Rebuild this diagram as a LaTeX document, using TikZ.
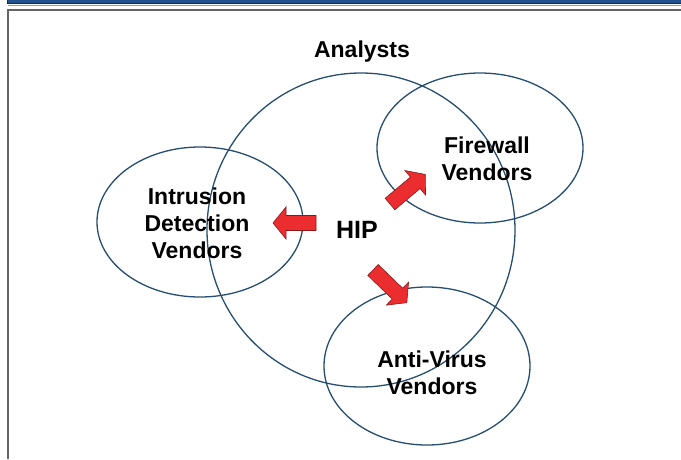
\documentclass[tikz,border=0pt]{standalone}
\usepackage{fontspec}
\setmainfont{Liberation Sans}
\usetikzlibrary{shapes.geometric}
\definecolor{ringblue}{RGB}{38,78,112}
\definecolor{bandblue}{RGB}{33,80,138}
\definecolor{banddark}{RGB}{30,40,60}
\definecolor{framegrey}{RGB}{100,100,100}
\definecolor{arrowred}{RGB}{235,45,48}
\definecolor{arrowedge}{RGB}{140,25,25}
\begin{document}
\begin{tikzpicture}[x=1pt,y=-1pt,
  ring/.style={ellipse, draw=ringblue, line width=1.3pt, inner sep=0pt},
  lbl/.style={font=\fontsize{23}{27}\selectfont\bfseries, align=center, text=black, inner sep=0pt},
  pics/blockarrow/.style={code={
    \filldraw[draw=arrowedge, fill=arrowred, line width=0.6pt, line join=miter]
      (0,-7.5) -- (#1-13,-7.5) -- (#1-13,-16) -- (#1,0) -- (#1-13,16) -- (#1-13,7.5) -- (0,7.5) -- cycle;
  }}]
\useasboundingbox (0,0) rectangle (681,459);
\fill[white] (0,0) rectangle (681,459);
% top band
\fill[bandblue] (8,0) rectangle (681,3.3);
\draw[banddark, line width=0.8pt] (7.7,0) -- (7.7,3.7) -- (681,3.7);
\draw[black!40, line width=0.8pt] (7.7,4.9) -- (681,4.9);
% frame
\draw[framegrey, line width=2pt] (8.2,459) -- (8.2,9.7) -- (681,9.7);
% rings
\node[ring, minimum width=308pt, minimum height=314pt] (analystsring) at (361,230) {};
\node[ring, minimum width=206pt, minimum height=150pt] (idsring) at (200,222) {};
\node[ring, minimum width=206pt, minimum height=150pt] (fwring) at (480,148) {};
\node[ring, minimum width=206pt, minimum height=158pt] (avring) at (427,366) {};
% arrows
\pic[rotate=180] at (316,223) {blockarrow=43};
\pic[rotate=40] at (390,204) {blockarrow=46};
\pic[rotate=-44] at (373,270) {blockarrow=47};
% labels
\node[lbl] (analysts) at (362,52) {Analysts};
\node[lbl, font=\fontsize{25}{27}\selectfont\bfseries] (hip) at (357,230) {HIP};
\node[lbl] (firewall) at (487,159) {Firewall\\Vendors};
\node[lbl] (ids) at (197,223) {Intrusion\\Detection\\Vendors};
\node[lbl] (av) at (432,373) {Anti-Virus\\Vendors};
\end{tikzpicture}
\end{document}
